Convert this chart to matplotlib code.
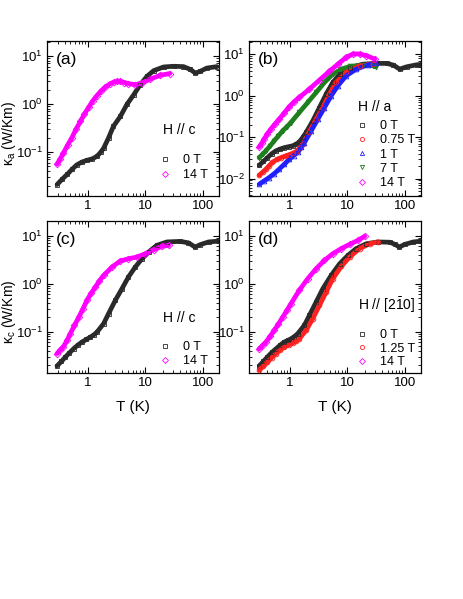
import matplotlib
matplotlib.use('Agg')
import matplotlib.pyplot as plt
from matplotlib.lines import Line2D
from matplotlib.ticker import LogLocator, FuncFormatter, NullFormatter
import math

plt.rcParams['font.family'] = ['Liberation Sans', 'DejaVu Sans']
plt.rcParams['mathtext.fontset'] = 'custom'
plt.rcParams['mathtext.rm'] = 'Liberation Sans'
plt.rcParams['mathtext.it'] = 'Liberation Sans:italic'
plt.rcParams['mathtext.default'] = 'regular'
plt.rcParams['axes.unicode_minus'] = False

# ---------------- data ----------------
# panel (a): kappa_a, H // c
a_T0 = [0.295, 0.36, 0.44, 0.54, 0.65, 0.8, 0.97, 1.2, 1.45, 1.7, 1.9, 2.3, 2.8, 3.7, 4.8, 6.3, 8.2, 10.7, 14, 20.8, 31, 46, 60, 74, 90, 117, 175]
a_k0 = [0.021, 0.027, 0.034, 0.044, 0.054, 0.062, 0.067, 0.072, 0.081, 0.1, 0.121, 0.196, 0.343, 0.553, 0.98, 1.56, 2.53, 3.77, 4.95, 5.9, 6.1, 6.0, 5.27, 4.4, 4.8, 5.6, 6.0]
a_T14 = [0.295, 0.33, 0.38, 0.45, 0.53, 0.63, 0.75, 0.88, 1.04, 1.22, 1.45, 1.7, 2.02, 2.4, 2.82, 3.2, 3.7, 4.3, 5.1, 6.7, 8.75, 12.2, 18.2, 26.5]
a_k14 = [0.056, 0.07, 0.095, 0.14, 0.196, 0.3, 0.435, 0.62, 0.85, 1.15, 1.5, 1.85, 2.25, 2.6, 2.85, 2.95, 2.95, 2.8, 2.65, 2.53, 2.74, 3.3, 3.96, 4.3]

# panel (b): kappa_a, H // a
b_T0 = [0.296, 0.35, 0.41, 0.49, 0.58, 0.69, 0.81, 0.96, 1.13, 1.3, 1.47, 1.7, 1.93, 2.52, 3.29, 4.3, 5.6, 7.36, 11, 18.8, 32, 48, 63, 81, 107, 160, 195]
b_k0 = [0.021, 0.026, 0.032, 0.04, 0.047, 0.052, 0.056, 0.059, 0.062, 0.068, 0.077, 0.1, 0.13, 0.248, 0.52, 1.1, 2.1, 3.3, 4.8, 5.8, 6.05, 6.05, 5.5, 4.4, 5.0, 5.6, 5.7]
b_T075 = [0.296, 0.34, 0.387, 0.44, 0.5, 0.6, 0.7, 0.84, 0.99, 1.13, 1.29, 1.48, 1.68, 2.2, 2.88, 3.76, 4.9, 6.4, 9.6, 16.4, 28]
b_k075 = [0.012, 0.0143, 0.0168, 0.0205, 0.0245, 0.029, 0.032, 0.035, 0.038, 0.041, 0.045, 0.054, 0.068, 0.137, 0.272, 0.52, 1.1, 2.1, 3.67, 5.3, 6.0]
b_T1 = [0.296, 0.36, 0.44, 0.54, 0.66, 0.8, 0.99, 1.17, 1.38, 1.6, 1.8, 2.36, 3.08, 4.02, 5.25, 6.87, 9.6, 14.3, 23, 32]
b_k1 = [0.0073, 0.0088, 0.0106, 0.0132, 0.017, 0.022, 0.0294, 0.036, 0.043, 0.057, 0.074, 0.142, 0.272, 0.52, 1.0, 1.75, 3.05, 4.4, 5.6, 6.1]
b_T7 = [0.296, 0.34, 0.387, 0.46, 0.54, 0.64, 0.755, 0.9, 1.05, 1.47, 2.06, 2.88, 4.02, 5.6, 7.9, 11, 18.8, 28, 31]
b_k7 = [0.032, 0.039, 0.047, 0.062, 0.082, 0.108, 0.142, 0.18, 0.226, 0.395, 0.69, 1.2, 2.1, 3.33, 4.4, 5.1, 5.5, 5.3, 5.0]
b_T14 = [0.296, 0.33, 0.36, 0.41, 0.47, 0.56, 0.66, 0.8, 0.99, 1.2, 1.47, 2.2, 3.3, 4.9, 6.87, 9.6, 12.6, 16.4, 21.5, 30]
b_k14 = [0.058, 0.072, 0.09, 0.12, 0.156, 0.21, 0.272, 0.38, 0.55, 0.72, 0.91, 1.45, 2.4, 3.9, 5.8, 8.5, 10.2, 10.2, 9.3, 7.7]

# panel (c): kappa_c, H // c
c_T0 = [0.294, 0.35, 0.41, 0.48, 0.57, 0.68, 0.8, 0.95, 1.11, 1.28, 1.45, 1.89, 2.3, 3.02, 3.94, 5.1, 6.7, 8.75, 11.4, 15.9, 23.7, 40, 56, 73, 90, 125, 187]
c_k0 = [0.0193, 0.024, 0.0296, 0.036, 0.0442, 0.053, 0.061, 0.069, 0.077, 0.086, 0.098, 0.147, 0.237, 0.45, 0.787, 1.38, 2.22, 3.3, 4.57, 6.3, 7.4, 7.6, 7.1, 5.8, 6.5, 7.4, 7.7]
c_T14 = [0.294, 0.33, 0.38, 0.44, 0.5, 0.59, 0.7, 0.83, 0.97, 1.15, 1.36, 1.6, 1.9, 2.64, 3.68, 5.1, 7.2, 10, 14, 19.5, 25.4]
c_k14 = [0.035, 0.041, 0.049, 0.066, 0.091, 0.135, 0.2, 0.3, 0.45, 0.63, 0.85, 1.15, 1.49, 2.22, 2.97, 3.3, 3.6, 4.2, 5.1, 6.0, 6.3]

# panel (d): kappa_c, H // [2-10]
d_T0 = [0.296, 0.35, 0.41, 0.49, 0.58, 0.69, 0.81, 0.93, 1.05, 1.2, 1.38, 1.8, 2.2, 2.88, 3.76, 5.25, 7.36, 10.3, 14.3, 21.5, 34, 54.6, 67, 80, 100, 140, 195]
d_k0 = [0.0193, 0.024, 0.0296, 0.037, 0.044, 0.053, 0.061, 0.066, 0.071, 0.079, 0.091, 0.136, 0.219, 0.415, 0.787, 1.49, 2.6, 3.9, 5.4, 6.8, 7.4, 7.3, 6.6, 5.8, 6.6, 7.4, 7.7]
d_T125 = [0.296, 0.35, 0.41, 0.49, 0.58, 0.69, 0.81, 0.96, 1.13, 1.3, 1.47, 1.93, 2.52, 3.29, 4.3, 5.6, 7.9, 11, 16.4, 24.5, 34]
d_k125 = [0.016, 0.019, 0.023, 0.029, 0.035, 0.042, 0.048, 0.053, 0.058, 0.064, 0.071, 0.107, 0.187, 0.354, 0.67, 1.27, 2.3, 3.6, 5.4, 6.8, 7.4]
d_T14 = [0.296, 0.34, 0.387, 0.46, 0.54, 0.64, 0.755, 0.9, 1.05, 1.47, 2.06, 2.88, 4.02, 5.6, 7.9, 11, 15.3, 20]
d_k14 = [0.044, 0.052, 0.061, 0.08, 0.107, 0.145, 0.2, 0.28, 0.38, 0.73, 1.27, 2.05, 3.06, 4.2, 5.4, 6.6, 8.0, 9.7]

BLACK = '#2a2a2a'
RED = '#ff2020'
BLUE = '#2020ff'
GREEN = '#1f7f1f'
MAG = '#ff00ff'

fig = plt.figure(figsize=(4.63, 5.99), dpi=100)

W = 172 / 463
pos = {
    'a': [47 / 463, 1 - 196 / 599, W, 155 / 599],
    'b': [249 / 463, 1 - 196 / 599, W, 155 / 599],
    'c': [47 / 463, 1 - 373 / 599, W, 152 / 599],
    'd': [249 / 463, 1 - 373 / 599, W, 152 / 599],
}
ylims = {'a': (0.0121, 20.5), 'b': (0.0038, 21), 'c': (0.0138, 20.2), 'd': (0.0138, 20.2)}


def series(ax, T, k, color, marker):
    ax.plot(T, k, color=color, lw=3.4, solid_capstyle='round', zorder=2)
    ax.plot(T, k, ls='none', marker=marker, ms=3.4, mfc='none', mec=color,
            mew=0.6, zorder=3)


def style(ax, key):
    ax.set_xscale('log')
    ax.set_yscale('log')
    ax.set_xlim(0.197, 190)
    ax.set_ylim(*ylims[key])
    ax.xaxis.set_major_locator(LogLocator(base=10, numticks=10))
    ax.xaxis.set_minor_locator(LogLocator(base=10, subs=range(2, 10), numticks=20))
    ax.xaxis.set_major_formatter(FuncFormatter(lambda v, p: f'{v:g}'))
    ax.xaxis.set_minor_formatter(NullFormatter())
    ax.yaxis.set_major_locator(LogLocator(base=10, numticks=10))
    ax.yaxis.set_minor_locator(LogLocator(base=10, subs=range(2, 10), numticks=20))
    ax.yaxis.set_major_formatter(FuncFormatter(
        lambda v, p: r'$10^{%d}$' % round(math.log10(v))))
    ax.yaxis.set_minor_formatter(NullFormatter())
    ax.tick_params(which='both', direction='in', top=True, right=True)
    ax.tick_params(which='major', length=4, width=0.8, labelsize=9.5, pad=3)
    ax.tick_params(which='minor', length=2, width=0.6)
    for s in ax.spines.values():
        s.set_linewidth(0.9)


def legend(ax, heading, items, tx, ty, lx, ly, ls):
    ax.text(tx, ty, heading, transform=ax.transAxes, fontsize=10,
            ha='left', va='center')
    handles = [Line2D([], [], ls='none', marker=m, ms=3, mfc='none', mec=c, mew=0.6)
               for (lab, c, m) in items]
    labels = [lab for (lab, c, m) in items]
    ax.legend(handles, labels, loc='upper left', bbox_to_anchor=(lx, ly),
              frameon=False, fontsize=9, handlelength=0.8, handletextpad=1.0,
              borderpad=0, borderaxespad=0, labelspacing=ls, numpoints=1)


axes = {}
for key in 'abcd':
    axes[key] = fig.add_axes(pos[key])
    style(axes[key], key)

ax = axes['a']
series(ax, a_T0, a_k0, BLACK, 's')
series(ax, a_T14, a_k14, MAG, 'D')
legend(ax, 'H // c', [('0 T', BLACK, 's'), ('14 T', MAG, 'D')],
       0.672, 0.426, 0.659, 0.268, 0.23)

ax = axes['b']
series(ax, b_T0, b_k0, BLACK, 's')
series(ax, b_T7, b_k7, GREEN, 'v')
series(ax, b_T075, b_k075, RED, 'o')
series(ax, b_T1, b_k1, BLUE, '^')
series(ax, b_T14, b_k14, MAG, 'D')
legend(ax, 'H // a', [('0 T', BLACK, 's'), ('0.75 T', RED, 'o'), ('1 T', BLUE, '^'),
                      ('7 T', GREEN, 'v'), ('14 T', MAG, 'D')],
       0.635, 0.574, 0.63, 0.49, 0.18)

ax = axes['c']
series(ax, c_T0, c_k0, BLACK, 's')
series(ax, c_T14, c_k14, MAG, 'D')
legend(ax, 'H // c', [('0 T', BLACK, 's'), ('14 T', MAG, 'D')],
       0.672, 0.362, 0.659, 0.208, 0.15)

ax = axes['d']
series(ax, d_T0, d_k0, BLACK, 's')
series(ax, d_T125, d_k125, RED, 'o')
series(ax, d_T14, d_k14, MAG, 'D')
legend(ax, r'H // [2$\bar{1}$0]', [('0 T', BLACK, 's'), ('1.25 T', RED, 'o'), ('14 T', MAG, 'D')],
       0.635, 0.447, 0.63, 0.287, 0.11)

for key, lab in zip('abcd', ['(a)', '(b)', '(c)', '(d)']):
    axes[key].text(0.05, 0.88, lab, transform=axes[key].transAxes,
                   fontsize=12.5, ha='left', va='center')

axes['a'].set_ylabel(r'$\kappa_a$ (W/Km)', fontsize=10)
axes['a'].yaxis.set_label_coords(-0.17, 0.40)
axes['c'].set_ylabel(r'$\kappa_c$ (W/Km)', fontsize=10)
axes['c'].yaxis.set_label_coords(-0.17, 0.40)
for key in 'cd':
    axes[key].set_xlabel('T (K)', fontsize=11)
    axes[key].xaxis.set_label_coords(0.5, -0.175)

fig.savefig('out.png', dpi=100)
